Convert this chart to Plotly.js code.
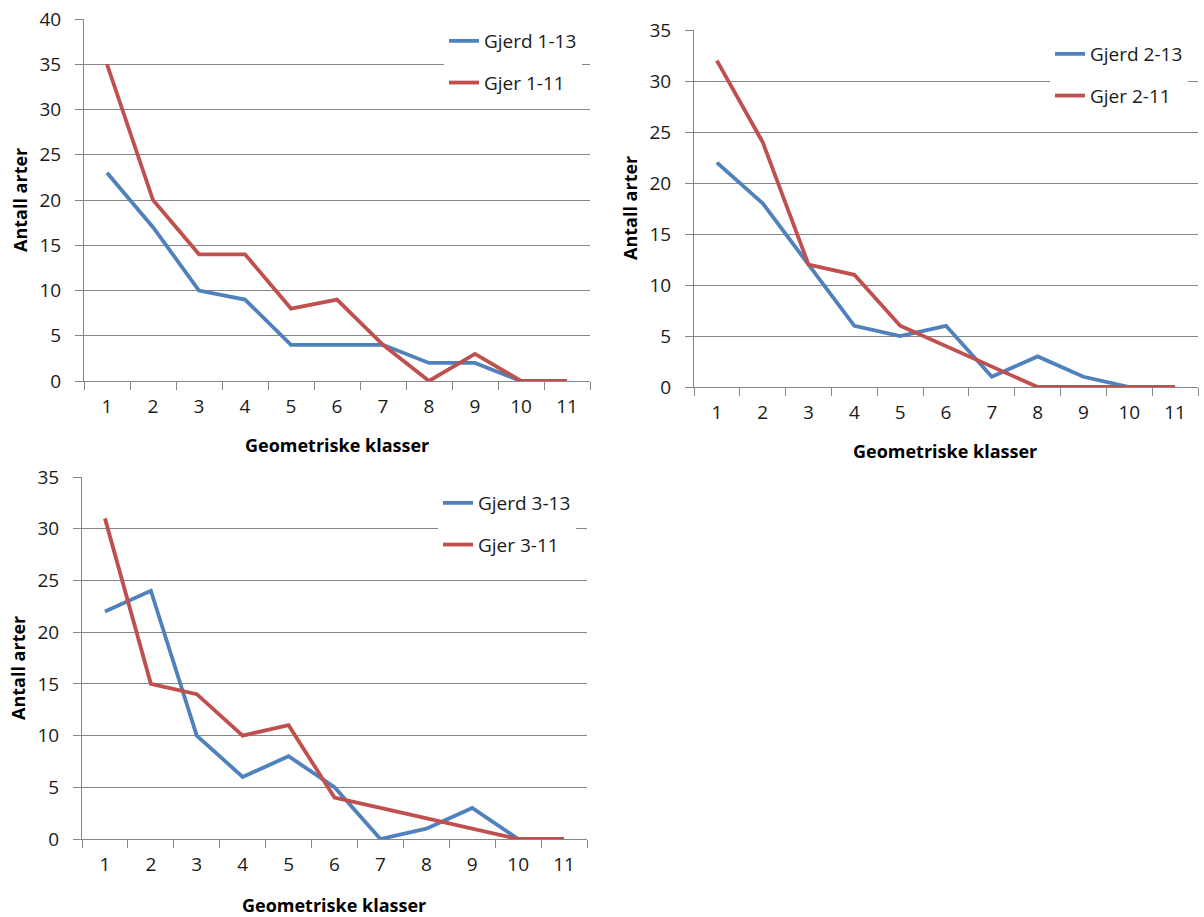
<!DOCTYPE html>
<html>
<head>
<meta charset="utf-8">
<script src="https://cdn.plot.ly/plotly-3.0.1.min.js"></script>
<style>html,body{margin:0;padding:0;background:#fff;}#chart{width:1204px;height:917px;}</style>
</head>
<body>
<div id="chart"></div>
<script>
// ---- data ----
const classes = ['1','2','3','4','5','6','7','8','9','10','11'];
const gjerd1_13 = [23,17,10,9,4,4,4,2,2,0,0];
const gjer1_11  = [35,20,14,14,8,9,4,0,3,0,0];
const gjerd2_13 = [22,18,12,6,5,6,1,3,1,0,0];
const gjer2_11  = [32,24,12,11,6,4,2,0,0,0,0];
const gjerd3_13 = [22,24,10,6,8,5,0,1,3,0,0];
const gjer3_11  = [31,15,14,10,11,4,3,2,1,0,0];
const seriesNames = ['Gjerd 1-13','Gjer 1-11','Gjerd 2-13','Gjer 2-11','Gjerd 3-13','Gjer 3-11'];
const xTitle = 'Geometriske klasser';
const yTitle = 'Antall arter';

// ---- styling ----
const W = 1204, H = 917;
const BLUE = '#4F81BD', RED = '#C0504D';
const GRID = '#868686';
const FONT = '"Open Sans", "Liberation Sans", sans-serif';
const px = v => v / W;
const py = v => 1 - v / H;

function trace(y, name, color, xa, ya, leg, grp) {
  return {x: classes, y: y, name: name, type: 'scatter', mode: 'lines',
    line: {color: color, width: 3.8}, xaxis: xa, yaxis: ya, legend: leg,
    legendgroup: grp, hoverinfo: 'x+y+name'};
}

const data = [
  trace(gjerd1_13, seriesNames[0], BLUE, 'x', 'y', 'legend', 'a1'),
  trace(gjer1_11, seriesNames[1], RED, 'x', 'y', 'legend', 'b1'),
  trace(gjerd2_13, seriesNames[2], BLUE, 'x2', 'y2', 'legend2', 'a2'),
  trace(gjer2_11, seriesNames[3], RED, 'x2', 'y2', 'legend2', 'b2'),
  trace(gjerd3_13, seriesNames[4], BLUE, 'x3', 'y3', 'legend3', 'a3'),
  trace(gjer3_11, seriesNames[5], RED, 'x3', 'y3', 'legend3', 'b3')
];

function xax(d0, d1, anchor) {
  return {domain: [px(d0), px(d1)], anchor: anchor, type: 'category',
    range: [-0.5, classes.length - 0.5],
    tickson: 'boundaries', ticks: 'outside', ticklen: 8, tickcolor: GRID, tickwidth: 1,
    showgrid: false, showline: true, linecolor: GRID, linewidth: 1, zeroline: false,
    ticklabelstandoff: 8,
    tickfont: {family: FONT, size: 19, color: '#1a1a1a'}, fixedrange: true};
}
function yax(d0, d1, anchor, max) {
  return {domain: [py(d1), py(d0)], anchor: anchor, range: [0, max], dtick: 5,
    ticks: 'outside', ticklen: 8, tickcolor: GRID, tickwidth: 1,
    showgrid: true, gridcolor: GRID, gridwidth: 1, showline: true, linecolor: GRID,
    linewidth: 1, zeroline: false, ticklabelstandoff: 10,
    tickfont: {family: FONT, size: 19, color: '#1a1a1a'}, fixedrange: true};
}
function leg(x, y) {
  return {x: px(x), y: py(y), xanchor: 'left', yanchor: 'top', bgcolor: '#ffffff',
    borderwidth: 0, tracegroupgap: 14, traceorder: 'grouped',
    font: {family: FONT, size: 19, color: '#1a1a1a'}};
}
function ann(text, x, y, angle) {
  return {text: text, x: px(x), y: py(y), xref: 'paper', yref: 'paper', showarrow: false,
    xanchor: 'center', yanchor: 'middle', textangle: angle || 0,
    font: {family: FONT, size: 18, color: '#000', weight: 'bold'}};
}

const layout = {
  width: W, height: H, margin: {l: 0, r: 0, t: 0, b: 0},
  paper_bgcolor: '#fff', plot_bgcolor: '#fff', showlegend: true,
  xaxis: xax(84, 590, 'y'),
  yaxis: yax(19, 381, 'x', 40),
  xaxis2: xax(694, 1198, 'y2'),
  yaxis2: yax(30, 387, 'x2', 35),
  xaxis3: xax(82, 587, 'y3'),
  yaxis3: yax(477, 839, 'x3', 35),
  legend: leg(444, 22),
  legend2: leg(1050, 35),
  legend3: leg(438, 484),
  annotations: [
    ann(xTitle, 337, 445), ann(yTitle, 20, 200, -90),
    ann(xTitle, 945, 451), ann(yTitle, 630, 208, -90),
    ann(xTitle, 334, 905), ann(yTitle, 18, 668, -90)
  ]
};

Plotly.newPlot('chart', data, layout, {displayModeBar: false, staticPlot: false});
</script>
</body>
</html>
